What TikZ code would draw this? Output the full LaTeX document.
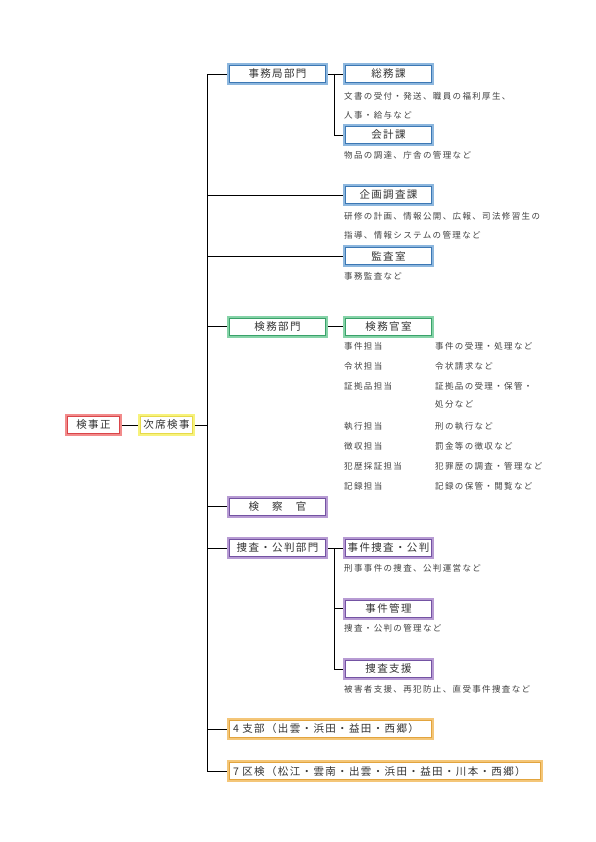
\documentclass[tikz,border=0pt]{standalone}
\usepackage{fontspec}
\setmainfont{Noto Sans CJK JP}
\newfontfamily\unitfamily[LetterSpace=13]{Noto Sans CJK JP}
\newfontfamily\memofamily[LetterSpace=16]{Noto Sans CJK JP}
\newcommand\unitfont{\unitfamily\fontsize{10.5}{12}\selectfont}
\newcommand\memofont{\memofamily\fontsize{8.5}{10}\selectfont}
\usepackage{xcolor}
\usetikzlibrary{positioning}
\definecolor{redout}{HTML}{F28B8B}
\definecolor{redin}{HTML}{D9454A}
\definecolor{yellowout}{HTML}{F7F27C}
\definecolor{yellowin}{HTML}{E6D94A}
\definecolor{blueout}{HTML}{8DB7DE}
\definecolor{bluein}{HTML}{3C78B4}
\definecolor{greenout}{HTML}{86D3A8}
\definecolor{greenin}{HTML}{3AA26A}
\definecolor{purpleout}{HTML}{B79BD3}
\definecolor{purplein}{HTML}{7453A3}
\definecolor{orangeout}{HTML}{F4C678}
\definecolor{orangein}{HTML}{E2A43E}
\tikzset{
  unit/.style={draw=#1out, line width=2pt, fill=white, minimum height=20pt,
    inner sep=3pt, text=black!80, font=\unitfont,
    path picture={\draw[#1in, line width=0.6pt]
      ([shift={(1.3pt,-1.3pt)}]path picture bounding box.north west) rectangle
      ([shift={(-1.3pt,1.3pt)}]path picture bounding box.south east);}},
  dept/.style={unit=#1, minimum width=99pt, anchor=west},
  sect/.style={unit=#1, minimum width=89pt, anchor=west},
  memo/.style={anchor=west, inner sep=0pt, font=\memofont, text=black!75},
  link/.style={draw=black, line width=0.9pt},
}

\begin{document}
\begin{tikzpicture}[x=1pt, y=-1pt]
        \useasboundingbox (0,0) rectangle (596,842);
        \node[unit=red, minimum width=55pt] (kenjisei) at (93.5,425) {検事正};
        \node[unit=yellow, minimum width=55pt, right=16pt of kenjisei] (jiseki) {次席検事};
        \coordinate (trunk) at (207,425);
        % jimukyoku
        \node[dept=blue] (jimukyoku) at (227,74) {事務局部門};
        \node[sect=blue] (somu) at (343,74) {総務課};
        \node[memo] (somumemo1) at (344,96) {文書の受付・発送、職員の福利厚生、};
        \node[memo] (somumemo2) at (344,115) {人事・給与など};
        \node[sect=blue] (kaikei) at (343,135) {会計課};
        \node[memo] (kaikeimemo) at (344,155) {物品の調達、庁舎の管理など};
        \coordinate (jimubranch) at (334,74);
        % kikaku, kansa
        \node[sect=blue] (kikaku) at (343,195) {企画調査課};
        \node[memo] (kikakumemo1) at (344,216) {研修の計画、情報公開、広報、司法修習生の};
        \node[memo] (kikakumemo2) at (344,235) {指導、情報システムの管理など};
        \node[sect=blue] (kansa) at (343,256) {監査室};
        \node[memo] (kansamemo) at (344,276) {事務監査など};
        % kenmu
        \node[dept=green] (kenmu) at (227,326.5) {検務部門};
        \node[sect=green] (kenmukan) at (343,326.5) {検務官室};
        \foreach \y/\a/\b [count=\i] in {346/事件担当/事件の受理・処理など,
            366/令状担当/令状請求など, 386/証拠品担当/証拠品の受理・保管・,
            426/執行担当/刑の執行など, 446/徴収担当/罰金等の徴収など,
            466/犯歴採証担当/犯罪歴の調査・管理など, 486/記録担当/記録の保管・閲覧など}{
          \node[memo] (tanto\i) at (344,\y) {\a};
          \node[memo] (gyomu\i) at (435,\y) {\b};
        }
        \node[memo] (shobun) at (435,404) {処分など};
        % kensatsukan
        \node[dept=purple] (kensatsukan) at (227,506.5) {検　察　官};
        % sosa
        \node[dept=purple] (sosa) at (227,548) {捜査・公判部門};
        \node[sect=purple] (jikensosa) at (343,548) {事件捜査・公判};
        \node[memo] (jikensosamemo) at (344,568.5) {刑事事件の捜査、公判運営など};
        \node[sect=purple] (jikenkanri) at (343,608.5) {事件管理};
        \node[memo] (jikenkanrimemo) at (344,628) {捜査・公判の管理など};
        \node[sect=purple] (sosashien) at (343,669) {捜査支援};
        \node[memo] (sosashienmemo) at (344,689) {被害者支援、再犯防止、直受事件捜査など};
        \coordinate (sosabranch) at (334,548);
        % shibu, kuken
        \node[dept=orange, text width=195pt, inner xsep=5pt] (shibu) at (227,729) {4 支部（出雲・浜田・益田・西郷）};
        \node[dept=orange, text width=304pt, inner xsep=5pt] (kuken) at (227,771) {7 区検（松江・雲南・出雲・浜田・益田・川本・西郷）};
        % links
        \draw[link] (kenjisei) -- (jiseki);
        \draw[link] (jiseki) -- (trunk);
        \draw[link] (jimukyoku.west) -| (trunk |- kuken.west) -- (kuken.west);
        \foreach \n in {kikaku, kansa, kenmu, kensatsukan, sosa, shibu}
          \draw[link] (trunk |- \n.west) -- (\n.west);
        \draw[link] (jimukyoku.east) -- (somu.west);
        \draw[link] (jimubranch) |- (kaikei.west);
        \draw[link] (kenmu.east) -- (kenmukan.west);
        \draw[link] (sosa.east) -- (jikensosa.west);
        \draw[link] (sosabranch) |- (sosashien.west);
        \draw[link] (sosabranch |- jikenkanri.west) -- (jikenkanri.west);
\end{tikzpicture}
\end{document}
